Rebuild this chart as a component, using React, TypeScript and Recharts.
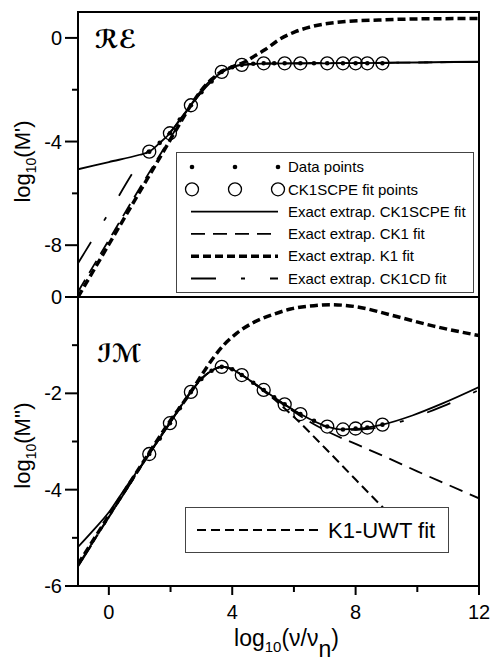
import React from 'react';
import { ComposedChart, Line, Scatter, XAxis, YAxis, ReferenceArea, Legend, Customized } from 'recharts';

const FONT = '"Liberation Sans", Arial, Helvetica, sans-serif';

// ---------- data ----------
const xTicks = [0, 2, 4, 6, 8, 10, 12];
const reYTicks = [-8, -6, -4, -2, 0];
const imYTicks = [-6, -5, -4, -3, -2, -1, 0];

const xCircles = [1.31, 1.98, 2.66, 3.66, 4.31, 5.02, 5.7, 6.21, 7.08, 7.59, 8.0, 8.38, 8.87];
const reCircles = [-4.39, -3.68, -2.6, -1.31, -1.04, -0.98, -0.98, -0.98, -0.98, -0.98, -0.98, -0.98, -0.98];
const imCircles = [-3.26, -2.62, -1.97, -1.45, -1.62, -1.93, -2.23, -2.43, -2.69, -2.75, -2.73, -2.71, -2.65];

const xData = [1.31, 1.65, 1.98, 2.3, 2.66, 3.0, 3.33, 3.66, 4.0, 4.31, 4.68, 5.02, 5.36, 5.7, 6.21, 6.65, 7.08, 7.59, 8.0, 8.38, 8.87];
const reData = [-4.39, -4.05, -3.68, -3.15, -2.6, -2.1, -1.68, -1.31, -1.13, -1.04, -1.0, -0.98, -0.98, -0.98, -0.98, -0.98, -0.98, -0.98, -0.98, -0.98, -0.98];
const imData = [-3.26, -2.94, -2.62, -2.31, -1.97, -1.7, -1.53, -1.45, -1.5, -1.62, -1.78, -1.93, -2.08, -2.23, -2.43, -2.57, -2.69, -2.75, -2.73, -2.71, -2.65];

// real part fits
const reScpeX = [-1, 0, 1, 1.31, 1.65, 1.98, 2.3, 2.66, 3.0, 3.33, 3.66, 4.0, 4.31, 5.0, 6, 7, 8, 9, 10, 11, 12];
const reScpeY = [-5.07, -4.79, -4.51, -4.39, -4.05, -3.68, -3.15, -2.6, -2.1, -1.68, -1.31, -1.13, -1.04, -0.99, -0.98, -0.98, -0.97, -0.96, -0.95, -0.93, -0.92];
const reCk1X = [-1, 0, 1, 2, 2.66, 3.0, 3.33, 3.66, 4.0, 4.31, 5, 6, 8, 10, 12];
const reCk1Y = [-9.8, -7.8, -5.8, -3.85, -2.58, -2.02, -1.6, -1.3, -1.13, -1.04, -0.99, -0.98, -0.97, -0.95, -0.93];
const reK1X = [-1, 0, 1, 2, 2.66, 3.0, 3.33, 3.66, 4.0, 4.4, 4.75, 5.07, 5.5, 6.05, 6.59, 7.67, 8.75, 9.85, 12];
const reK1Y = [-10, -7.97, -5.94, -3.92, -2.6, -2.02, -1.6, -1.3, -1.12, -0.93, -0.68, -0.45, -0.08, 0.24, 0.44, 0.63, 0.69, 0.73, 0.75];
const reCk1cdX = [-1, 0, 1, 1.31, 1.98, 2.66, 3.0, 3.33, 3.66, 4.0, 4.31, 5, 6, 8, 10, 12];
const reCk1cdY = [-8.7, -6.75, -4.8, -4.3, -3.64, -2.62, -2.08, -1.65, -1.31, -1.13, -1.04, -0.99, -0.98, -0.97, -0.95, -0.93];

// imaginary part fits
const imScpeX = [-1, -0.5, 0, 0.5, 1.31, 1.98, 2.66, 3.0, 3.33, 3.66, 4.0, 4.31, 5.02, 5.7, 6.21, 7.08, 7.59, 8.0, 8.38, 8.87, 9.84, 10.82, 12];
const imScpeY = [-5.19, -4.84, -4.47, -4.0, -3.26, -2.62, -1.97, -1.7, -1.53, -1.45, -1.5, -1.62, -1.93, -2.23, -2.43, -2.69, -2.75, -2.74, -2.71, -2.65, -2.46, -2.21, -1.87];
const imCk1X = [-1, 0, 1, 1.98, 2.66, 3.0, 3.33, 3.66, 4.0, 4.31, 5.02, 5.7, 6.21, 7.24, 8, 9, 10, 11, 12];
const imCk1Y = [-5.57, -4.56, -3.56, -2.6, -1.97, -1.7, -1.53, -1.45, -1.5, -1.62, -1.94, -2.25, -2.47, -2.84, -3.05, -3.33, -3.62, -3.9, -4.18];
const imK1X = [-1, 0, 1, 1.98, 2.66, 3.07, 3.39, 3.72, 4.15, 4.69, 5.34, 5.89, 6.65, 7.2, 8.0, 9.3, 10.5, 12];
const imK1Y = [-5.55, -4.54, -3.54, -2.58, -1.97, -1.56, -1.26, -1.0, -0.75, -0.53, -0.36, -0.25, -0.18, -0.16, -0.2, -0.4, -0.6, -0.8];
const imCk1cdX = [-1, 0, 1, 1.98, 2.66, 3.0, 3.33, 3.66, 4.0, 4.31, 5.02, 5.7, 6.21, 7.08, 7.59, 8.0, 8.38, 8.87, 9.84, 10.82, 12];
const imCk1cdY = [-5.6, -4.58, -3.57, -2.61, -1.97, -1.7, -1.53, -1.45, -1.5, -1.62, -1.93, -2.23, -2.43, -2.7, -2.76, -2.76, -2.74, -2.69, -2.51, -2.27, -1.93];
const imUwtX = [-1, 0, 1, 1.98, 2.66, 3.0, 3.33, 3.66, 4.0, 4.31, 5.02, 5.5, 6.05, 7, 8, 8.9];
const imUwtY = [-5.58, -4.57, -3.56, -2.6, -1.97, -1.7, -1.53, -1.45, -1.5, -1.62, -1.95, -2.2, -2.52, -3.13, -3.79, -4.38];

const legendLabels = [
  'Data points',
  'CK1SCPE fit points',
  'Exact extrap. CK1SCPE fit',
  'Exact extrap. CK1 fit',
  'Exact extrap. K1 fit',
  'Exact extrap. CK1CD fit',
];
const legendLabels2 = ['K1-UWT fit'];

const pts = (xs: number[], ys: number[]) => xs.map((x, i) => ({ x, y: ys[i] }));

// ---------- styles ----------
const S_SOLID = { w: 1.8, dash: undefined as string | undefined };
const S_CK1 = { w: 1.8, dash: '14 8' };
const S_K1 = { w: 3.5, dash: '8 4' };
const S_CK1CD = { w: 1.8, dash: '25 25 4 25' };
const S_UWT = { w: 2, dash: '9 5' };

const renderLine = (key: string, xs: number[], ys: number[], s: { w: number; dash?: string }) => (
  <Line
    key={key}
    data={pts(xs, ys)}
    dataKey="y"
    type="monotone"
    stroke="#000"
    strokeWidth={s.w}
    strokeDasharray={s.dash}
    dot={false}
    activeDot={false}
    isAnimationActive={false}
  />
);

const openCircle = (p: any) => (
  <circle cx={p.cx} cy={p.cy} r={6.5} fill="none" stroke="#000" strokeWidth={1.3} />
);
const smallDot = (p: any) => <circle cx={p.cx} cy={p.cy} r={2.3} fill="#000" />;

// ---------- ticks ----------
const makeYTick = (labelEvery: number) => (props: any) => {
  const { x, y, payload } = props;
  const v = payload.value;
  const major = v % labelEvery === 0;
  return (
    <g>
      <line x1={x - (major ? 13 : 6)} x2={x} y1={y} y2={y} stroke="#000" strokeWidth={2} />
      {major && (
        <text x={x - 16} y={y} dy="0.35em" textAnchor="end" fontSize={20} fontFamily={FONT} fill="#000">
          {String(v)}
        </text>
      )}
    </g>
  );
};

const bottomXTick = (props: any) => {
  const { x, y, payload } = props;
  const v = payload.value;
  const major = v % 4 === 0;
  return (
    <g>
      <line x1={x} x2={x} y1={y} y2={y + (major ? 9 : 6)} stroke="#000" strokeWidth={2} />
      {major && (
        <text x={x} y={y + 33} textAnchor="middle" fontSize={20} fontFamily={FONT} fill="#000">
          {String(v)}
        </text>
      )}
    </g>
  );
};

const boundaryXTick = (props: any) => {
  const { x, y } = props;
  return <line x1={x} x2={x} y1={y - 6} y2={y + 8} stroke="#000" strokeWidth={2} />;
};

// ---------- labels ----------
const yLabel = (primes: string, shift: number) => (props: any) => {
  const vb = props.viewBox || {};
  const cx = 30;
  const cy = (vb.y ?? 0) + (vb.height ?? 0) / 2 + shift;
  return (
    <text
      x={cx}
      y={cy}
      transform={`rotate(-90 ${cx} ${cy})`}
      textAnchor="middle"
      fontSize={22}
      fontFamily={FONT}
      fill="#000"
    >
      log<tspan fontSize={14} dy={6}>10</tspan>
      <tspan dy={-6}>{`(M${primes})`}</tspan>
    </text>
  );
};

const xLabel = (props: any) => {
  const vb = props.viewBox || {};
  const cx = (vb.x ?? 0) + (vb.width ?? 0) / 2 + 8;
  const cy = (vb.y ?? 0) + 60;
  return (
    <text x={cx} y={cy} textAnchor="middle" fontSize={23} fontFamily={FONT} fill="#000">
      log<tspan fontSize={15} dy={6}>10</tspan>
      <tspan dy={-6}>(ν/ν</tspan>
      <tspan dy={11}>n</tspan>
      <tspan dy={-11}>)</tspan>
    </text>
  );
};

// ---------- legends ----------
const LineSample = ({ x1, x2, y, s }: { x1: number; x2: number; y: number; s: { w: number; dash?: string } }) => (
  <line x1={x1} x2={x2} y1={y} y2={y} stroke="#000" strokeWidth={s.w} strokeDasharray={s.dash} />
);

const Legend1 = () => {
  const W = 298;
  const H = 141;
  const rowY = (i: number) => 14 + i * 22.3;
  const sx1 = 14;
  const sx2 = 101;
  const marks = [15, 58, 101];
  const styles = [S_SOLID, S_CK1, S_K1, S_CK1CD];
  return (
    <div style={{ width: W, height: H, boxSizing: 'border-box', border: '1px solid #444', background: '#fff' }}>
      <svg width={W - 2} height={H - 2} style={{ display: 'block' }}>
        {marks.map((m) => (
          <circle key={'d' + m} cx={m} cy={rowY(0)} r={2.3} fill="#000" />
        ))}
        {marks.map((m) => (
          <circle key={'c' + m} cx={m} cy={rowY(1)} r={6.5} fill="none" stroke="#000" strokeWidth={1.3} />
        ))}
        {styles.map((s, i) => (
          <LineSample key={i} x1={sx1} x2={sx2} y={rowY(i + 2)} s={s} />
        ))}
        {legendLabels.map((t, i) => (
          <text key={t} x={111} y={rowY(i)} dy="0.35em" fontSize={15} fontFamily={FONT} fill="#000">
            {t}
          </text>
        ))}
      </svg>
    </div>
  );
};

const Legend2 = () => {
  const W = 264;
  const H = 46;
  return (
    <div style={{ width: W, height: H, boxSizing: 'border-box', border: '1px solid #444', background: '#fff' }}>
      <svg width={W - 2} height={H - 2} style={{ display: 'block' }}>
        <LineSample x1={11} x2={134} y={22} s={S_UWT} />
        <text x={142} y={22} dy="0.35em" fontSize={22} fontFamily={FONT} fill="#000">
          {legendLabels2[0]}
        </text>
      </svg>
    </div>
  );
};

const Title = ({ x, y, text }: { x: number; y: number; text: string }) => (
  <text
    x={x}
    y={y}
    fontSize={25}
    fontStyle="italic"
    fontWeight="bold"
    fontFamily='"DejaVu Serif", "DejaVu Sans", serif'
    fill="#000"
  >
    {text}
  </text>
);

export default function App() {
  return (
    <div style={{ position: 'absolute', left: 0, top: 0, width: 490, height: 663, background: '#fff', overflow: 'hidden' }}>
      {/* Real part */}
      <div style={{ position: 'absolute', left: 0, top: 0 }}>
        <ComposedChart width={490} height={310} margin={{ top: 12, right: 11, bottom: 13, left: 0 }}>
          <XAxis
            type="number"
            dataKey="x"
            domain={[-1, 12]}
            allowDataOverflow
            ticks={xTicks}
            interval={0}
            height={0}
            tickSize={0}
            tickMargin={0}
            tickLine={false}
            tick={boundaryXTick}
            axisLine={{ stroke: '#000', strokeWidth: 2 }}
          />
          <YAxis
            type="number"
            domain={[-10, 1]}
            allowDataOverflow
            ticks={reYTicks}
            interval={0}
            width={78}
            tickSize={0}
            tickMargin={0}
            tickLine={false}
            tick={makeYTick(4)}
            axisLine={{ stroke: '#000', strokeWidth: 2 }}
            label={{ content: yLabel("'", 7) }}
          />
          <ReferenceArea x1={-1} x2={12} y1={-10} y2={1} fill="none" fillOpacity={0} stroke="#000" strokeWidth={2} />
          {renderLine('scpe', reScpeX, reScpeY, S_SOLID)}
          {renderLine('ck1', reCk1X, reCk1Y, S_CK1)}
          {renderLine('k1', reK1X, reK1Y, S_K1)}
          {renderLine('ck1cd', reCk1cdX, reCk1cdY, S_CK1CD)}
          <Scatter data={pts(xCircles, reCircles)} dataKey="y" shape={openCircle} isAnimationActive={false} />
          <Scatter data={pts(xData, reData)} dataKey="y" shape={smallDot} isAnimationActive={false} />
          <Customized component={() => <Title x={95} y={48} text="ℛℰ" />} />
          <Legend
            layout="vertical"
            align="center"
            verticalAlign="middle"
            content={() => <Legend1 />}
            wrapperStyle={{ left: 176, top: 152, width: 298, height: 141 }}
          />
        </ComposedChart>
      </div>

      {/* Imaginary part */}
      <div style={{ position: 'absolute', left: 0, top: 270 }}>
        <ComposedChart width={490} height={393} margin={{ top: 27, right: 11, bottom: 0, left: 0 }}>
          <XAxis
            type="number"
            dataKey="x"
            domain={[-1, 12]}
            allowDataOverflow
            ticks={xTicks}
            interval={0}
            height={77}
            tickSize={0}
            tickMargin={0}
            tickLine={false}
            tick={bottomXTick}
            axisLine={{ stroke: '#000', strokeWidth: 2 }}
            label={{ content: xLabel }}
          />
          <YAxis
            type="number"
            domain={[-6, 0]}
            allowDataOverflow
            ticks={imYTicks}
            interval={0}
            width={78}
            tickSize={0}
            tickMargin={0}
            tickLine={false}
            tick={makeYTick(2)}
            axisLine={{ stroke: '#000', strokeWidth: 2 }}
            label={{ content: yLabel("''", 4) }}
          />
          <ReferenceArea x1={-1} x2={12} y1={-6} y2={0} fill="none" fillOpacity={0} stroke="#000" strokeWidth={2} />
          {renderLine('scpe', imScpeX, imScpeY, S_SOLID)}
          {renderLine('ck1', imCk1X, imCk1Y, S_CK1)}
          {renderLine('k1', imK1X, imK1Y, S_K1)}
          {renderLine('ck1cd', imCk1cdX, imCk1cdY, S_CK1CD)}
          {renderLine('uwt', imUwtX, imUwtY, S_UWT)}
          <Scatter data={pts(xCircles, imCircles)} dataKey="y" shape={openCircle} isAnimationActive={false} />
          <Scatter data={pts(xData, imData)} dataKey="y" shape={smallDot} isAnimationActive={false} />
          <Customized component={() => <Title x={97} y={92} text="ℐℳ" />} />
          <Legend
            layout="vertical"
            align="center"
            verticalAlign="middle"
            content={() => <Legend2 />}
            wrapperStyle={{ left: 185, top: 237, width: 264, height: 46 }}
          />
        </ComposedChart>
      </div>
    </div>
  );
}
